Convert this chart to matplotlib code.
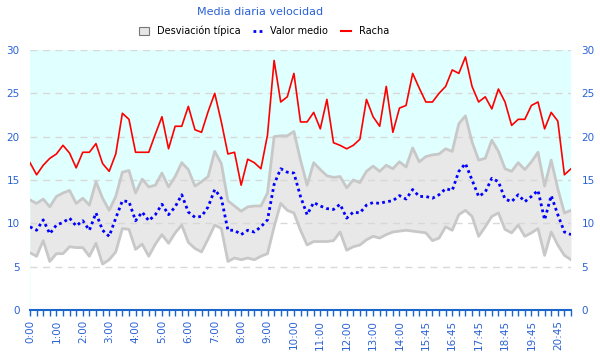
import matplotlib
matplotlib.use("Agg")
import matplotlib.pyplot as plt
from matplotlib.patches import Patch
from matplotlib.lines import Line2D

# ---- data ----
times = []
for m in range(0, 14 * 60 + 1, 15):
    times.append(f"{m // 60}:{m % 60:02d}")
times += ["14:15", "14:30", "14:45"]
for m in range(15 * 60 + 45, 21 * 60 + 16, 15):
    times.append(f"{m // 60}:{m % 60:02d}")

label_times = ["0:00", "1:00", "2:00", "3:00", "4:00", "5:00", "6:00", "7:00",
               "8:00", "9:00", "10:00", "11:00", "12:00", "13:00", "14:00",
               "15:45", "16:45", "17:45", "18:45", "19:45", "20:45"]

racha = [17.0, 15.6, 16.7, 17.5, 18.0, 19.0, 18.1, 16.4, 18.2, 18.2,
         19.2, 16.9, 16.0, 18.0, 22.7, 22.0, 18.2, 18.2, 18.2, 20.3,
         22.3, 18.6, 21.2, 21.2, 23.5, 20.8, 20.5, 22.9, 25.0, 21.7,
         18.0, 18.2, 14.4, 17.4, 17.0, 16.3, 20.2, 28.8, 24.0, 24.6,
         27.3, 21.7, 21.7, 22.8, 20.9, 24.3, 19.3, 19.0, 18.6, 19.0,
         19.7, 24.3, 22.3, 21.2, 25.8, 20.5, 23.3, 23.6, 27.3, 25.6,
         24.0, 24.0, 25.0, 25.8, 27.7, 27.3, 29.2, 25.8, 24.0, 24.6,
         23.2, 25.5, 24.0, 21.3, 22.0, 22.0, 23.6, 24.0, 20.9, 22.8,
         21.8, 15.6, 16.3]

upper = [12.7, 12.3, 12.8, 11.9, 13.1, 13.5, 13.8, 12.3, 12.9, 12.1,
         14.8, 12.9, 11.5, 13.1, 15.9, 16.1, 13.5, 15.1, 14.2, 14.4,
         15.8, 14.2, 15.4, 17.0, 16.2, 14.3, 14.8, 15.4, 18.3, 16.9,
         12.6, 12.0, 11.4, 11.9, 12.0, 12.0, 13.5, 20.0, 20.1, 20.1,
         20.6, 17.3, 14.4, 17.0, 16.2, 15.5, 15.3, 15.4, 14.1, 15.0,
         14.7, 16.0, 16.6, 16.0, 16.7, 16.3, 17.1, 16.5, 18.7, 17.1,
         17.7, 17.9, 18.0, 18.6, 18.3, 21.5, 22.4, 19.4, 17.3, 17.5,
         19.6, 18.3, 16.3, 16.0, 17.0, 16.2, 17.1, 18.2, 14.3, 17.3,
         14.0, 11.2, 11.5]

lower = [6.6, 6.2, 8.0, 5.6, 6.5, 6.5, 7.3, 7.2, 7.2, 6.2,
         7.7, 5.3, 5.8, 6.7, 9.4, 9.3, 7.0, 7.6, 6.2, 7.6,
         8.7, 7.7, 8.9, 9.8, 7.8, 7.1, 6.7, 8.2, 9.8, 9.4,
         5.6, 6.0, 5.8, 6.0, 5.8, 6.2, 6.5, 9.6, 12.3, 11.5,
         11.2, 9.2, 7.5, 7.9, 7.9, 7.9, 8.0, 9.0, 6.9, 7.3,
         7.5, 8.1, 8.5, 8.3, 8.7, 9.0, 9.1, 9.2, 9.1, 9.0,
         8.9, 8.0, 8.3, 9.6, 9.2, 11.0, 11.5, 10.8, 8.5, 9.6,
         10.8, 11.2, 9.3, 8.9, 9.8, 8.5, 8.9, 9.4, 6.3, 9.0,
         7.5, 6.3, 5.8]

mean = [9.6, 9.2, 10.4, 8.8, 9.8, 10.1, 10.6, 9.7, 10.3, 9.2,
        11.2, 9.2, 8.5, 10.6, 12.6, 12.5, 10.3, 11.3, 10.3, 11.0,
        12.2, 11.0, 11.9, 13.3, 11.3, 10.7, 10.8, 11.9, 13.9, 12.9,
        9.2, 9.2, 8.7, 9.2, 9.0, 9.6, 10.4, 14.5, 16.3, 15.9,
        15.8, 13.1, 11.0, 12.4, 12.0, 11.7, 11.6, 12.2, 10.6, 11.3,
        11.2, 12.1, 12.4, 12.3, 12.5, 12.6, 13.2, 12.8, 13.9, 13.1,
        13.1, 12.9, 13.3, 14.0, 13.8, 16.0, 16.9, 15.0, 13.1, 13.6,
        15.2, 14.8, 12.8, 12.5, 13.3, 12.5, 13.1, 13.8, 10.4, 13.2,
        11.0, 9.0, 8.7]

y_ticks = [0, 5, 10, 15, 20, 25, 30]

# ---- plot ----
blue_txt = "#2a62d4"
axis_blue = "#1a66cc"

fig = plt.figure(figsize=(6, 3.6), dpi=100)
ax = fig.add_axes([30 / 600, 1 - 310 / 360, 541 / 600, 260 / 360])
ax.set_facecolor("#e0ffff")

x = list(range(len(times)))
ax.fill_between(x, 0, lower, color="white", lw=0, zorder=1)
ax.fill_between(x, lower, upper, color="#e8e8e8", lw=0, zorder=1)
for yv in y_ticks[1:]:
    ax.axhline(yv, color="#d8d8d8", lw=1, ls=(0, (5, 4)), zorder=1.5)
ax.plot(x, upper, color="#c8c8c8", lw=2, zorder=2)
ax.plot(x, lower, color="#c8c8c8", lw=2, zorder=2)
ax.plot(x, mean, color="#0000ff", lw=2, ls=(0, (1, 1.2)), zorder=3)
ax.plot(x, racha, color="#ff0000", lw=1.2, zorder=4)

ax.set_xlim(0, len(times) - 1)
ax.set_ylim(0, 30)
ax.set_yticks(y_ticks)
ax.set_xticks(x)
ax.set_xticklabels([t if t in label_times else "" for t in times],
                   rotation=90, color=blue_txt, fontsize=7.5)
ax.tick_params(axis="x", length=4, width=1, color=axis_blue, pad=3)
ax.tick_params(axis="y", left=False, right=False, labelleft=True,
               labelright=True, labelcolor=blue_txt, labelsize=7.5, pad=4)
for s in ["top", "left", "right"]:
    ax.spines[s].set_visible(False)
ax.spines["bottom"].set_color(axis_blue)
ax.spines["bottom"].set_linewidth(1.5)

fig.text(260 / 600, 1 - 12 / 360, "Media diaria velocidad", ha="center",
         va="center", color=blue_txt, fontsize=8)

handles = [
    Patch(facecolor="#e6e6e6", edgecolor="#777777", lw=0.8),
    Line2D([0], [0], color="#0000ff", lw=2, ls=(0, (1, 1.2))),
    Line2D([0], [0], color="#ff0000", lw=1.5),
]
fig.legend(handles, ["Desviación típica", "Valor medio", "Racha"],
           loc="center", bbox_to_anchor=(264 / 600, 1 - 31 / 360), ncol=3,
           frameon=False, fontsize=7, handlelength=1.0, handleheight=0.9,
           columnspacing=1.3, handletextpad=0.8)

fig.savefig("out.png", dpi=100)
